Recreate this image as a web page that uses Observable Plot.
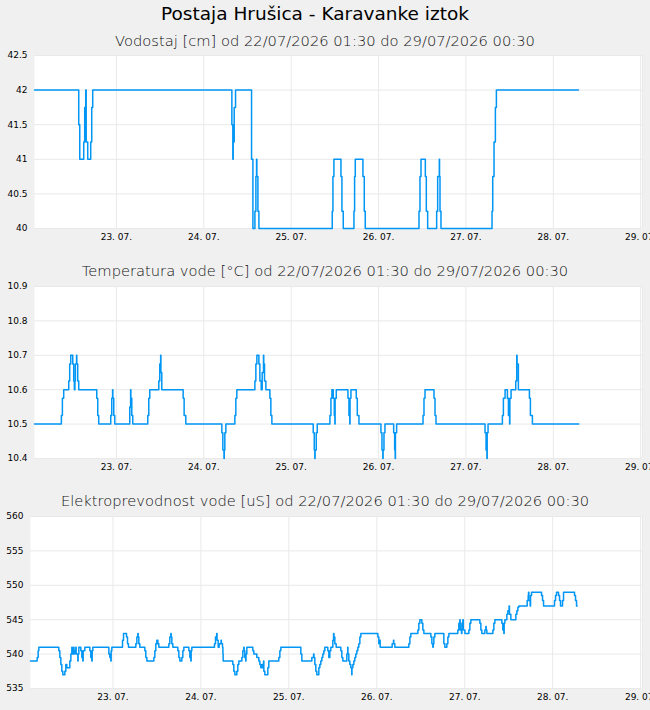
<!DOCTYPE html>
<html><head><meta charset="utf-8">
<script src="https://cdn.jsdelivr.net/npm/d3@7"></script>
<script src="https://cdn.jsdelivr.net/npm/@observablehq/plot@0.6"></script>
<style>
html,body{margin:0;padding:0;background:#f0f0f0;}
#page{position:relative;width:650px;height:710px;background:#f0f0f0;font-family:"DejaVu Sans",sans-serif;overflow:hidden}
.t{position:absolute;left:0;width:650px;text-align:center;white-space:nowrap;color:#000;line-height:1}
.main{font-size:18.5px;top:5px;left:-10px}
.sub{font-size:14.7px;font-weight:300;color:#111}
.panel{position:absolute;left:0}
</style></head><body><div id="page"></div>
<script>
// ---- texts ----
const stationTitle = "Postaja Hrušica - Karavanke iztok";
const panelTitles = [
  "Vodostaj [cm] od 22/07/2026 01:30 do 29/07/2026 00:30",
  "Temperatura vode [°C] od 22/07/2026 01:30 do 29/07/2026 00:30",
  "Elektroprevodnost vode [uS] od 22/07/2026 01:30 do 29/07/2026 00:30"
];
// time axis: hours since 22.07.2026 00:00
const rangeHours = [1.5, 168.5];
const dayTickHours = [24, 48, 72, 96, 120, 144, 168]; // 23.07. ... 29.07.
const levelTicks = [40, 40.5, 41, 41.5, 42, 42.5];
const tempTicks = [10.4, 10.5, 10.6, 10.7, 10.8, 10.9];
const condTicks = [535, 540, 545, 550, 555, 560];

// ---- series: [hours since 22.07. 00:00, value] (step changes) ----
const levelSeries = [
  [1.5,42],[13.65,41.5],[13.93,41],[15.02,41.25],[15.29,41.75],[15.57,42],[15.7,41.25],[16.12,41],[16.94,41.25],[17.22,41.75],[17.49,42],
  [55.71,41.5],[55.98,41],[56.08,41.25],[56.35,41.75],[56.72,42],
  [61.12,41],[61.49,40],[62.04,40.25],[62.31,40.75],[62.49,41],[62.58,40.75],[62.86,40.25],[63.14,40],
  [83.28,40.25],[83.47,40.75],[83.74,41],[85.67,40.75],[85.94,40.25],[86.31,40],
  [89.24,40.25],[89.42,40.75],[89.61,41],[91.71,40.75],[92.08,40.25],[92.35,40],
  [107.11,40.25],[107.38,40.75],[107.66,41],[108.85,40.75],[109.12,40.25],[109.49,40],
  [111.96,40.25],[112.24,40.75],[112.69,41],[112.75,40.75],[112.88,40.25],[113.15,40],
  [127.17,40.25],[127.36,40.75],[127.72,41.25],[128.09,41.75],[128.37,42],[150.9,42]
];
const temperatureSeries = [
  [1.5,10.5],[8.88,10.525],[9.16,10.575],[9.52,10.6],[10.9,10.625],[11.17,10.675],[11.45,10.7],[12.0,10.675],[12.27,10.625],[12.45,10.6],[12.6,10.625],[12.73,10.675],[13.05,10.7],[13.12,10.675],[13.37,10.625],[13.65,10.6],
  [18.6,10.575],[18.87,10.525],[19.14,10.5],[22.44,10.525],[22.72,10.575],[22.95,10.6],[23.02,10.575],[23.27,10.525],[23.54,10.5],
  [27.67,10.55],[27.9,10.6],[27.97,10.575],[28.22,10.525],[28.49,10.5],[32.61,10.525],[32.89,10.575],[33.16,10.6],[35.64,10.625],[35.91,10.675],[36.15,10.7],[36.22,10.65],[36.46,10.6],
  [42.33,10.575],[42.6,10.525],[43.06,10.5],[52.96,10.475],[53.23,10.425],[53.55,10.4],[53.62,10.425],[53.78,10.475],[54.06,10.5],
  [56.53,10.525],[56.8,10.575],[57.08,10.6],[62.03,10.625],[62.3,10.675],[62.58,10.7],[63.13,10.675],[63.4,10.625],[63.77,10.6],[64.04,10.65],[64.4,10.7],[64.47,10.675],[64.68,10.625],[65.05,10.6],
  [66.15,10.575],[66.42,10.525],[66.7,10.5],[78.06,10.475],[78.34,10.425],[78.5,10.4],[78.57,10.425],[78.89,10.475],[79.16,10.5],
  [82.64,10.525],[82.92,10.575],[83.19,10.6],[83.56,10.575],[83.84,10.525],[84.0,10.5],[84.07,10.575],[84.39,10.6],[87.59,10.575],[87.87,10.525],[88.1,10.5],[88.17,10.575],[88.42,10.6],
  [89.88,10.575],[90.16,10.525],[90.62,10.5],[96.66,10.475],[96.94,10.425],[97.18,10.4],[97.25,10.425],[97.49,10.475],[97.76,10.5],
  [100.15,10.475],[100.42,10.425],[100.57,10.4],[100.64,10.475],[100.97,10.5],[108.21,10.525],[108.48,10.575],[108.76,10.6],[111.23,10.575],[111.51,10.525],[111.78,10.5],
  [125.25,10.475],[125.53,10.425],[125.77,10.4],[125.84,10.475],[126.08,10.5],[130.02,10.525],[130.29,10.575],[130.75,10.6],[131.39,10.575],[131.67,10.525],[132.0,10.5],[132.07,10.575],[132.4,10.6],
  [133.68,10.625],[133.96,10.7],[134.05,10.675],[134.41,10.6],[137.44,10.575],[137.71,10.525],[138.26,10.5],[151.0,10.5]
];
const conductivitySeries = [
  [1.5,539],[3.32,539.5],[3.59,540.5],[3.77,541],[9.23,540.5],[9.5,539.5],[9.78,538.5],[10.05,537.5],[10.32,537],[10.87,537.5],[11.14,538.5],[11.41,538],[12.23,539],[12.51,540],[12.78,541],[12.87,540.5],[13.05,540],[13.28,541],[13.36,540],[13.6,540.5],[13.87,541],[13.96,540],[14.42,539],[14.5,540],[14.69,541],
  [15.23,540.5],[15.51,539.5],[15.78,539],[15.87,540.5],[16.33,541],[17.69,540.5],[17.96,539.5],[18.24,539],[18.33,540.5],[18.51,541],[22.88,540],[23.15,539.5],[23.42,539],[23.51,540.5],[23.69,541],
  [26.61,542],[26.88,543],[27.7,542.5],[27.97,541.5],[28.24,541],[30.24,541.5],[30.52,542.5],[30.79,543],[30.88,542.5],[31.06,541.5],[31.33,541],[32.7,540.5],[32.97,539.5],[33.25,539],
  [35.16,539.5],[35.43,540.5],[35.7,541.5],[35.97,542],[36.25,541.5],[36.52,541],[39.25,541.5],[39.52,542.5],[39.79,543],[39.88,542.5],[40.07,541.5],[40.34,541],[41.7,540.5],[41.98,539.5],[42.25,539],
  [42.8,539.5],[43.07,540.5],[43.34,541],[44.71,540.5],[44.98,539.5],[45.25,539],[45.34,540.5],[45.52,541],[51.71,541.5],[51.98,542.5],[52.3,543],[52.4,542],[52.71,541],[52.98,541.5],[53.5,542],[53.58,541.5],[53.9,541],[54.0,540],[54.07,539],
  [56.71,538.5],[56.98,537.5],[57.26,537],[57.8,537.5],[58.07,538.5],[58.35,539],[59.17,539.5],[59.44,540.5],[59.71,541],[59.8,540.5],[59.98,539.5],[60.22,539],[60.3,540],[60.53,541],
  [62.17,540.5],[62.44,540],[63.26,539.5],[63.8,539],[64.08,538.5],[64.35,538],[64.62,538.5],[64.9,538],[65.1,539],[65.17,537.5],[65.44,537],[66.26,538],[66.53,539],[69.26,539.5],[69.54,540.5],[69.81,541],
  [75.27,540],[75.54,539],[78.27,539.5],[78.75,540],[78.85,539.5],[79.09,538.5],[79.36,537.5],[79.63,537],[80.18,538],[80.45,538.5],[80.72,539],[81.0,539.5],[81.27,540],[81.54,540.5],[81.82,541],
  [82.63,540.5],[82.91,539.5],[83.18,540.5],[83.45,541],[84.0,542],[84.2,543],[84.3,542.5],[84.54,541.5],[84.91,541],[86.18,540.5],[86.45,539.5],[86.73,539],[87.82,540],[88.05,541],[88.12,540],[88.36,539],
  [88.64,538.5],[88.91,538],[89.15,537],[89.22,538],[89.46,538.5],[89.73,539],[90.0,539.5],[90.27,540],[90.55,540.5],[90.82,541],[91.09,541.5],[91.37,542.5],[91.64,543],
  [96.28,542.5],[96.55,541.5],[96.85,542],[96.92,541],[100.19,541.5],[100.55,542],[100.64,541.5],[100.92,541],
  [104.74,541.5],[105.02,542.5],[105.29,543],[107.2,543.5],[107.47,544.5],[107.75,545],[108.29,544.5],[108.56,543.5],[108.84,543],[110.75,542.5],[111.02,541.5],[111.29,541],[111.4,541.5],[111.57,542.5],[111.84,543],
  [114.29,541.5],[114.57,541],[115.11,541.5],[115.39,542.5],[115.66,543],[118.11,543.5],[118.39,544.5],[118.66,545],[118.75,543.5],[119.1,543],[119.21,544.5],[119.48,545],[119.6,543.5],[120.03,543],
  [121.12,543.5],[121.39,544.5],[121.66,545],[124.12,544.5],[124.39,543.5],[124.66,543],[125.48,543.5],[125.76,544],[125.85,543.5],[126.03,543],[127.67,543.5],[127.94,544.5],[128.21,545],
  [130.12,544.5],[130.39,543.5],[130.67,543],[130.75,544.5],[130.94,545],[131.49,545.8],[131.76,546.3],[132.1,547],[132.2,545.8],[132.58,545],[133.94,545.8],[134.22,546.3],[134.49,546.8],[134.76,547],
  [137.03,547.8],[137.31,548.5],[137.4,549],[137.5,547.8],[137.85,547],[137.95,548.5],[138.22,549],[140.95,548.5],[141.22,547.8],[141.5,547],[144.49,547.8],[144.77,548.5],[145.04,549],[145.59,548.5],[145.86,547.8],[146.13,547],
  [146.68,547.8],[146.95,549],[149.95,548.5],[150.22,547.8],[150.5,547],[150.68,547]
];

// ---- rendering ----
const base = Date.UTC(2026, 6, 22);
const toDate = h => new Date(base + h * 3600000);
const page = document.getElementById("page");
const lineColor = "#0096f5";
const gridColor = "#e9e9e9";

function addText(txt, cls, top) {
  const d = document.createElement("div");
  d.className = "t " + cls;
  d.textContent = txt;
  if (top != null) d.style.top = top + "px";
  page.appendChild(d);
}

function addPanel(series, ticks, top, height, marginLeft, marginBottom) {
  const data = series.map(([h, v]) => ({t: toDate(h), v}));
  const xTicks = dayTickHours.map(toDate);
  const xDomain = rangeHours.map(toDate);
  const chart = Plot.plot({
    width: 650, height,
    marginTop: 10, marginBottom, marginLeft, marginRight: 8,
    style: {background: "transparent", fontFamily: "'DejaVu Sans', sans-serif", fontSize: "9px", color: "#000", overflow: "visible"},
    x: {type: "utc", domain: xDomain, ticks: xTicks, tickFormat: d3.utcFormat("%d. %m."), tickSize: 0, tickPadding: 5, label: null},
    y: {domain: [ticks[0], ticks[ticks.length - 1]], ticks, tickFormat: d => String(d), tickSize: 0, tickPadding: 7, label: null},
    marks: [
      Plot.frame({fill: "white", stroke: "none"}),
      Plot.gridX(xTicks, {stroke: gridColor, strokeOpacity: 1}),
      Plot.gridY(ticks, {stroke: gridColor, strokeOpacity: 1}),
      Plot.ruleX([xDomain[1]], {stroke: gridColor}),
      Plot.line(data, {x: "t", y: "v", curve: "step-after", stroke: lineColor, strokeWidth: 1.5})
    ]
  });
  chart.classList.add("panel");
  chart.style.top = top + "px";
  page.appendChild(chart);
}

addText(stationTitle, "main");
addText(panelTitles[0], "sub", 34);
addText(panelTitles[1], "sub", 264);
addText(panelTitles[2], "sub", 494);
addPanel(levelSeries, levelTicks, 45, 203, 34, 20);
addPanel(temperatureSeries, tempTicks, 276, 202, 34, 20);
addPanel(conductivitySeries, condTicks, 506, 204, 30, 22);
</script></body></html>
